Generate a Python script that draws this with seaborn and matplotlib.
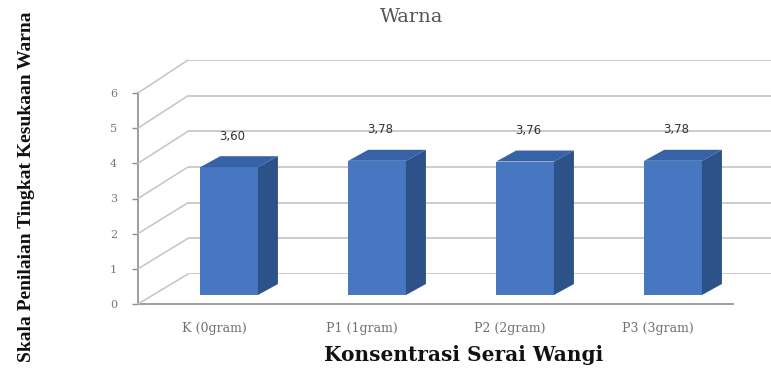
import matplotlib
matplotlib.use("Agg")
import matplotlib.pyplot as plt
from matplotlib.lines import Line2D
from matplotlib.patches import Polygon
import seaborn as sns
import pandas as pd

# ---- data ----
categories = ["K (0gram)", "P1 (1gram)", "P2 (2gram)", "P3 (3gram)"]
values = [3.60, 3.78, 3.76, 3.78]
value_labels = ["3,60", "3,78", "3,76", "3,78"]
y_ticks = [0, 1, 2, 3, 4, 5, 6]
title = "Warna"
x_title = "Konsentrasi Serai Wangi"
y_title = "Skala Penilaian Tingkat Kesukaan Warna"

sns.set_style("white")
plt.rcParams["font.family"] = ["DejaVu Sans"]

W, H = 771, 372
fig = plt.figure(figsize=(W / 100, H / 100), dpi=100)


def rect(left, bottom_from_top, width, height):
    return [left / W, (H - bottom_from_top) / H, width / W, height / H]


front_col = "#4677C0"
side_col = "#2D5189"
top_col = "#3762A6"
grid_col = "#c4c4c4"
axis_col = "#8c8c8c"

# back wall (gridlines)
back_ax = fig.add_axes(rect(188, 274, 600, 214))
back_ax.set_ylim(0, 6)
back_ax.set_xlim(0, 1)
back_ax.set_yticks(y_ticks)
back_ax.set_xticks([])
back_ax.tick_params(left=False, labelleft=False)
back_ax.yaxis.grid(True, color=grid_col, lw=1.2)
for s in back_ax.spines.values():
    s.set_visible(False)
back_ax.patch.set_alpha(0)

# front plane (axis, floor edge, labels)
front_ax = fig.add_axes(rect(138, 304, 595, 211))
front_ax.set_ylim(0, 6)
front_ax.set_xlim(-0.514, 3.506)
front_ax.patch.set_alpha(0)
front_ax.set_yticks(y_ticks)
front_ax.set_yticklabels([str(t) for t in y_ticks], family="DejaVu Serif",
                         fontsize=8, color="#777777")
front_ax.tick_params(axis="y", length=4, width=1, color=axis_col, pad=11, left=True)
front_ax.set_xticks(range(len(categories)))
front_ax.set_xticklabels(categories, family="DejaVu Serif", fontsize=9, color="#707070")
front_ax.tick_params(axis="x", length=0, pad=13)
for name, s in front_ax.spines.items():
    if name in ("left", "bottom"):
        s.set_color(axis_col)
        s.set_linewidth(1.2)
    else:
        s.set_visible(False)

# bar plane
bar_ax = fig.add_axes(rect(153, 295, 592, 213))
bar_ax.patch.set_alpha(0)
df = pd.DataFrame({"cat": categories, "val": values})
sns.barplot(data=df, x="cat", y="val", ax=bar_ax, color=front_col, saturation=1,
            width=0.39, edgecolor="none", zorder=3)
bar_ax.set_ylim(0, 6)
bar_ax.set_xlim(-0.514, 3.486)
bar_ax.set_xlabel("")
bar_ax.set_ylabel("")
bar_ax.set_xticks([])
bar_ax.set_yticks([])
for s in bar_ax.spines.values():
    s.set_visible(False)

# 3D faces
ddx = 20 / 148
ddy = 11 / 35.5
for p in list(bar_ax.patches):
    x0 = p.get_x()
    x1 = x0 + p.get_width()
    h = p.get_height()
    side = Polygon([(x1, 0), (x1 + ddx, ddy), (x1 + ddx, h + ddy), (x1, h)],
                   closed=True, facecolor=side_col, edgecolor="none", zorder=3)
    top = Polygon([(x0, h), (x1, h), (x1 + ddx, h + ddy), (x0 + ddx, h + ddy)],
                  closed=True, facecolor=top_col, edgecolor="none", zorder=3)
    bar_ax.add_patch(side)
    bar_ax.add_patch(top)

for i, (v, lab) in enumerate(zip(values, value_labels)):
    bar_ax.annotate(lab, xy=(i, v), xytext=(3, 31), textcoords="offset pixels",
                    ha="center", va="center", fontsize=8.5, color="#333333")

# diagonals connecting front axis to back wall
inv = fig.transFigure.inverted()
for t in y_ticks:
    p1 = front_ax.transData.transform((front_ax.get_xlim()[0], t))
    p2 = back_ax.transData.transform((0, t))
    f1 = inv.transform(p1)
    f2 = inv.transform(p2)
    fig.add_artist(Line2D([f1[0], f2[0]], [f1[1], f2[1]], color=grid_col,
                          lw=1.1, zorder=0.5))

# texts
fig.text(412 / W, (H - 17) / H, title, ha="center", va="center",
         family="DejaVu Serif", fontsize=14, color="#555555")
fig.text(464 / W, (H - 355) / H, x_title, ha="center", va="center",
         family="DejaVu Serif", fontweight="bold", fontsize=14.5, color="#111111")
fig.text(27 / W, (H - 187) / H, y_title, ha="center", va="center", rotation=90,
         family="Liberation Serif", fontweight="bold", fontsize=14, color="#111111")

fig.savefig("out.png", dpi=100)
